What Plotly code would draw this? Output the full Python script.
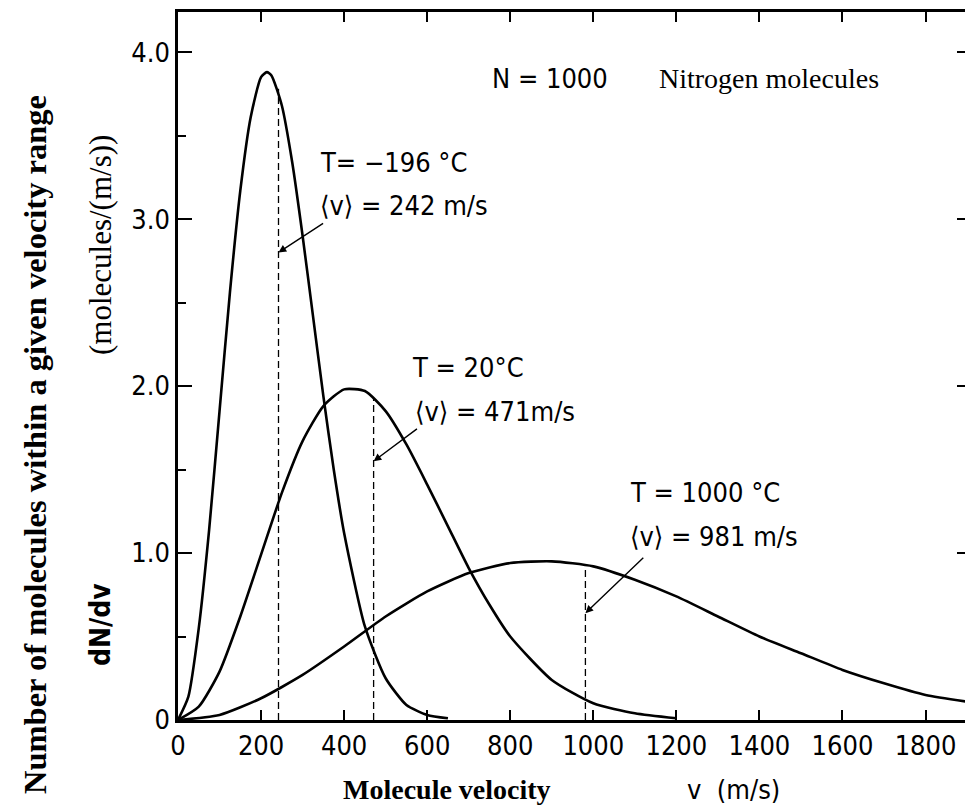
import plotly.graph_objects as go

# ---- data ----
v_cold = [0, 25, 50, 75, 100, 125, 150, 175, 200, 214, 225, 250, 275, 300, 325, 350, 375, 400, 450, 500, 550, 600, 650]
f_cold = [0, 0.14, 0.55, 1.14, 1.85, 2.56, 3.17, 3.61, 3.85, 3.88, 3.86, 3.68, 3.34, 2.90, 2.42, 1.94, 1.50, 1.12, 0.56, 0.25, 0.09, 0.03, 0.01]

v_room = [0, 50, 100, 150, 200, 250, 300, 350, 400, 450, 500, 550, 600, 650, 700, 750, 800, 900, 1000, 1100, 1200]
f_room = [0, 0.08, 0.29, 0.62, 0.99, 1.36, 1.67, 1.88, 1.98, 1.97, 1.85, 1.65, 1.41, 1.16, 0.91, 0.69, 0.50, 0.24, 0.10, 0.04, 0.01]

v_hot = [0, 100, 200, 300, 400, 500, 600, 700, 800, 900, 1000, 1100, 1200, 1300, 1400, 1500, 1600, 1700, 1800, 1900]
f_hot = [0, 0.03, 0.13, 0.27, 0.44, 0.62, 0.77, 0.88, 0.94, 0.95, 0.92, 0.84, 0.74, 0.62, 0.50, 0.40, 0.30, 0.22, 0.15, 0.11]

mean_v = [242, 471, 981]
mean_f = [3.78, 1.93, 0.92]

x_ticks = [0, 200, 400, 600, 800, 1000, 1200, 1400, 1600, 1800]
y_ticks = [0, 1, 2, 3, 4]
y_tick_text = ["0", "1.0", "2.0", "3.0", "4.0"]

DIN = "DejaVu Sans Condensed, Liberation Sans Narrow, DejaVu Sans, sans-serif"
SERIF = "Liberation Serif, Times New Roman, serif"

fig = go.Figure()

for vx, fy in [(v_cold, f_cold), (v_room, f_room), (v_hot, f_hot)]:
    fig.add_trace(go.Scatter(x=vx, y=fy, mode="lines", line=dict(color="black", width=2.6, shape="spline", smoothing=0.6),
                             hoverinfo="skip", showlegend=False))

for mv, mf in zip(mean_v, mean_f):
    fig.add_trace(go.Scatter(x=[mv, mv], y=[0, mf], mode="lines", line=dict(color="black", width=1.3, dash="7px,4px"),
                             hoverinfo="skip", showlegend=False))

# invisible trace for right-hand tick axis
fig.add_trace(go.Scatter(x=[0], y=[0], yaxis="y2", mode="markers", marker=dict(opacity=0), hoverinfo="skip", showlegend=False))

ann = []
def txt(x, y, s, font=DIN, size=27, xanchor="left"):
    ann.append(dict(x=x, y=y, xref="x", yref="y", text=s, showarrow=False, xanchor=xanchor, yanchor="middle",
                    font=dict(family=font, size=size, color="black")))

txt(336, 3.34, "T= −196 °C")
txt(336, 3.08, "⟨v⟩ = 242 m/s")
txt(558, 2.11, "T = 20°C")
txt(565, 1.85, "⟨v⟩ = 471m/s")
txt(1083, 1.36, "T = 1000 °C")
txt(1083, 1.10, "⟨v⟩ = 981 m/s")
txt(895, 3.84, "N = 1000", xanchor="center")
txt(1153, 3.84, "Nitrogen molecules", font=SERIF, size=28)

# arrows (tail -> head on dashed line)
arrows = [((353, 2.98), (242, 2.80)), ((579, 1.75), (471, 1.55)), ((1124, 0.98), (981, 0.64))]
for (tx, ty), (hx, hy) in arrows:
    ann.append(dict(x=hx, y=hy, ax=tx, ay=ty, xref="x", yref="y", axref="x", ayref="y", text="",
                    showarrow=True, arrowhead=2, arrowsize=1.1, arrowwidth=1.4, arrowcolor="black"))

def vtitle(px, py, s, font, size):
    ann.append(dict(x=(px - 178) / 787, y=(720 - py) / 708, xref="paper", yref="paper", text=s,
                    textangle=-90, showarrow=False, xanchor="center", yanchor="middle",
                    font=dict(family=font, size=size, color="black")))

vtitle(35, 445, "<b>Number of molecules within a given velocity range</b>", SERIF, 32.5)
vtitle(100, 245, "(molecules/(m/s))", SERIF, 31)
vtitle(100, 625, "<b>dN/dv</b>", DIN, 28)

ann.append(dict(x=(447 - 178) / 787, y=-0.098, xref="paper", yref="paper", text="<b>Molecule velocity</b>",
                xanchor="center", yanchor="middle", showarrow=False, font=dict(family=SERIF, size=28, color="black")))
ann.append(dict(x=(733 - 178) / 787, y=-0.098, xref="paper", yref="paper", text="v  (m/s)",
                xanchor="center", yanchor="middle", showarrow=False, font=dict(family=DIN, size=27, color="black")))

fig.update_layout(
    width=965, height=806,
    margin=dict(l=178, r=0, t=12, b=86),
    paper_bgcolor="white", plot_bgcolor="white",
    annotations=ann,
    xaxis=dict(range=[0, 1895], tickvals=x_ticks, ticks="inside", ticklen=10, tickwidth=2, tickcolor="black",
               showline=True, linecolor="black", linewidth=2.5, mirror="ticks", showgrid=False, zeroline=False,
               tickfont=dict(family=DIN, size=27, color="black")),
    yaxis=dict(range=[0, 4.24], tickvals=y_ticks, ticktext=y_tick_text, ticks="inside", ticklen=14, tickwidth=2,
               tickcolor="black", showline=True, linecolor="black", linewidth=2.5, showgrid=False, zeroline=False,
               minor=dict(dtick=0.5, ticks="inside", ticklen=8, tickwidth=2, tickcolor="black"),
               tickfont=dict(family=DIN, size=27, color="black")),
    yaxis2=dict(range=[0, 4.24], overlaying="y", side="right", tickvals=[1, 2, 3, 4], ticks="inside", ticklen=8,
                tickwidth=2, tickcolor="black", showticklabels=False, showline=False, showgrid=False, zeroline=False),
)

fig.write_html("out.html")
